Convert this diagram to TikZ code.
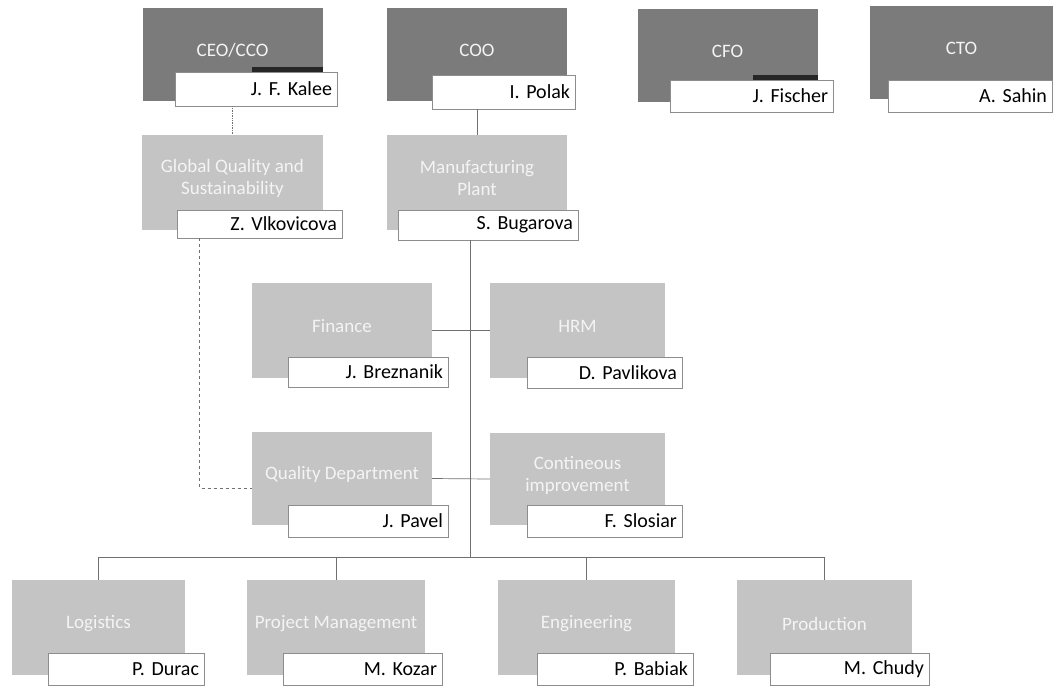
\documentclass[tikz,border=0pt]{standalone}
\usepackage{fontspec}
\setmainfont{Carlito}
\usetikzlibrary{calc}
\definecolor{darkbox}{HTML}{7B7B7B}
\definecolor{lightbox}{HTML}{C4C4C4}
\definecolor{linec}{HTML}{707070}
\definecolor{lblc}{HTML}{F4F4F4}
\begin{document}
\begin{tikzpicture}[x=1pt,y=-1pt,
  box/.style={rectangle, draw=none, inner sep=0pt, minimum width=#1},
  dbox/.style={box=180pt, fill=darkbox, minimum height=93pt},
  lbox/.style={box=#1, fill=lightbox, minimum height=95pt},
  lbl/.style={text=lblc, font=\fontsize{19}{22}\selectfont, align=center, yshift=4pt},
  nm/.style={rectangle, draw=linec!80, line width=0.5pt, fill=white, inner xsep=5pt, inner ysep=0pt,
    align=right, font=\fontsize{20}{22}\selectfont, text=black},
  conn/.style={draw=linec, line width=0.7pt},
  bar/.style={fill=black!85, draw=none}
]
\useasboundingbox (0,0) rectangle (1062,686);

% top row
\node[dbox, label={[lbl]center:CEO/CCO}] (ceo) at (232.5,54) {};
\node[dbox, label={[lbl]center:COO}] (coo) at (477,54.5) {};
\node[dbox, label={[lbl]center:CFO}] (cfo) at (727.5,55.5) {};
\node[dbox, minimum width=183pt, label={[lbl]center:CTO}] (cto) at (961.5,52.5) {};

\fill[bar] (252,67) rectangle (323,72);
\fill[bar] (753,75) rectangle (818,80);

\node[nm, minimum width=162pt, text width=152pt, minimum height=34pt] (ceoN) at (256,89) {J. F. Kalee};
\node[nm, minimum width=143pt, text width=133pt, minimum height=34pt] (cooN) at (503.5,92) {I. Polak};
\node[nm, minimum width=163pt, text width=153pt, minimum height=32pt] (cfoN) at (751.5,96) {J. Fischer};
\node[nm, minimum width=164pt, text width=154pt, minimum height=32pt] (ctoN) at (970,96) {A. Sahin};

% second row
\node[lbox=181pt, label={[lbl]center:Global Quality and\\Sustainability}] (gq) at (232.5,182.5) {};
\node[lbox=180pt, label={[lbl]center:Manufacturing\\Plant}] (mp) at (477,182.5) {};
\node[nm, minimum width=165pt, text width=155pt, minimum height=28pt] (gqN) at (259.5,224) {Z. Vlkovicova};
\node[nm, minimum width=180pt, text width=170pt, minimum height=30pt] (mpN) at (488,225) {S. Bugarova};

% third row
\node[lbox=180pt, label={[lbl]center:Finance}] (fin) at (342,330.5) {};
\node[lbox=175pt, label={[lbl]center:HRM}] (hrm) at (577.5,330.5) {};
\node[nm, minimum width=160pt, text width=150pt, minimum height=30pt] (finN) at (368,372) {J. Breznanik};
\node[nm, minimum width=155pt, text width=145pt, minimum height=31pt] (hrmN) at (604.5,372.5) {D. Pavlikova};

% fourth row
\node[lbox=180pt, minimum height=93pt, label={[lbl]center:Quality Department}] (qd) at (342,478.5) {};
\node[lbox=175pt, minimum height=92pt, label={[lbl]center:Contineous\\improvement}] (ci) at (577.5,479) {};
\node[nm, minimum width=160pt, text width=150pt, minimum height=32pt] (qdN) at (368,521) {J. Pavel};
\node[nm, minimum width=155pt, text width=145pt, minimum height=32pt] (ciN) at (604.5,521) {F. Slosiar};

% bottom row
\node[lbox=173pt, label={[lbl]center:Logistics}] (log) at (98.5,627.5) {};
\node[lbox=178pt, label={[lbl]center:Project Management}] (pm) at (336,627.5) {};
\node[lbox=177pt, label={[lbl]center:Engineering}] (eng) at (586.5,627.5) {};
\node[lbox=175pt, label={[lbl]center:Production}] (prod) at (824.5,627.5) {};
\node[nm, minimum width=156pt, text width=146pt, minimum height=32pt] (logN) at (126,669) {P. Durac};
\node[nm, minimum width=159pt, text width=149pt, minimum height=32pt] (pmN) at (362.5,669) {M. Kozar};
\node[nm, minimum width=156pt, text width=146pt, minimum height=32pt] (engN) at (615,669) {P. Babiak};
\node[nm, minimum width=159pt, text width=149pt, minimum height=32pt] (prodN) at (849.5,669) {M. Chudy};

% helper coordinates
\coordinate (spine) at (470,0);
\coordinate (bus) at (0,557);

% connectors
\draw[conn, densely dotted] (ceoN.south -| ceo.south) -- (gq.north);
\draw[conn] (cooN.south -| coo.south) -- (mp.north);
\draw[conn, dashed] ($(gqN.south west)+(23,0)$) |- ($(qd.west)+(0,10)$);
\draw[conn] (mpN.south -| spine) -- (bus -| spine);
\draw[conn] (fin.east) -- (hrm.west);
\draw[conn] (qd.east) -- (ci.west);
\draw[conn] (log.north) |- (bus -| prod.north) -- (prod.north);
\draw[conn] (pm.north) -- (bus -| pm.north);
\draw[conn] (eng.north) -- (bus -| eng.north);
\end{tikzpicture}
\end{document}
